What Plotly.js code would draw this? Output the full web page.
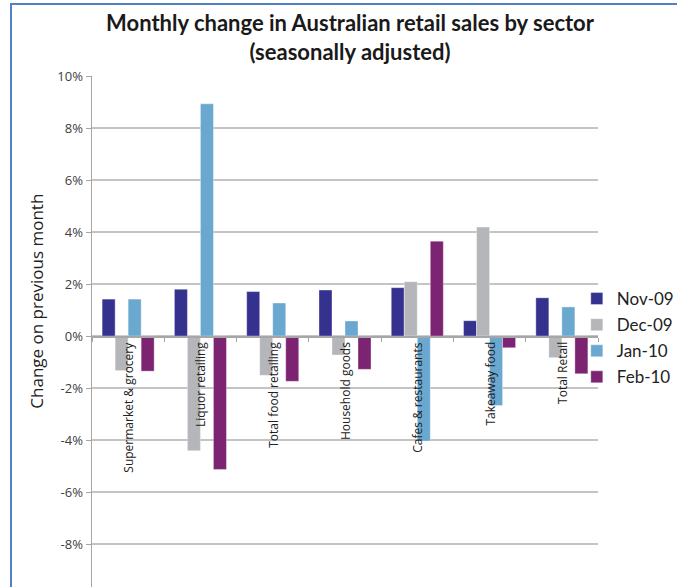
<!DOCTYPE html>
<html>
<head>
<meta charset="utf-8">
<script src="https://cdn.plot.ly/plotly-3.0.1.min.js"></script>
<style>
  html, body { margin: 0; padding: 0; background: #fff; }
  #wrap { position: relative; width: 677px; height: 587px; overflow: hidden; }
  #chart { position: absolute; left: 0; top: 0; width: 677px; height: 587px; }
  #frame { position: absolute; left: 10px; top: 3px; width: 700px; height: 620px;
           border-top: 2px solid #4f81c4; border-left: 2px solid #4f81c4; pointer-events: none; }
</style>
</head>
<body>
<div id="wrap"><div id="chart"></div><div id="frame"></div></div>
<script>
// Data
const categories = ["Supermarket & grocery", "Liquor retailing", "Total food retailing",
                    "Household goods", "Cafes & restaurants", "Takeaway food", "Total Retail"];
const seriesNames = ["Nov-09", "Dec-09", "Jan-10", "Feb-10"];
const nov09 = [1.42, 1.80, 1.71, 1.77, 1.86, 0.59, 1.47];
const dec09 = [-1.33, -4.41, -1.51, -0.73, 2.09, 4.19, -0.83];
const jan10 = [1.42, 8.93, 1.27, 0.58, -4.04, -2.67, 1.12];
const feb10 = [-1.35, -5.13, -1.74, -1.28, 3.65, -0.45, -1.45];
const tickValues = [10, 8, 6, 4, 2, 0, -2, -4, -6, -8];
const tickLabels = ["10%", "8%", "6%", "4%", "2%", "0%", "-2%", "-4%", "-6%", "-8%"];

const colors = ["#35318f", "#b5b6ba", "#6aa8cf", "#7c2372"];
const values = [nov09, dec09, jan10, feb10];
const font = "'Open Sans', 'Noto Sans', sans-serif";
const lato = "Lato, 'Open Sans', sans-serif";

const yRange = [-9.65, 10];
const zeroPos = (0 - yRange[0]) / (yRange[1] - yRange[0]);

const traces = values.map((v, i) => ({
  type: "bar",
  name: seriesNames[i],
  x: categories,
  y: v,
  legendgroup: "g" + i,
  marker: { color: colors[i], line: { color: "rgba(255,255,255,0.6)", width: 0.6 } },
  hoverinfo: "x+y+name"
}));

const annotations = categories.map(c => ({
  x: c, y: 0, xref: "x", yref: "y",
  text: c, showarrow: false, textangle: -90,
  xanchor: "center", yanchor: "top", yshift: -4,
  font: { family: font, size: 12, color: "#222" }
}));

// y-axis title placed like the reference (slightly above the plot centre)
annotations.push({
  x: -0.109, y: 0.56, xref: "paper", yref: "paper",
  text: "Change on previous month", showarrow: false, textangle: -90,
  xanchor: "center", yanchor: "middle",
  font: { family: font, size: 17, color: "#222" }
});

const layout = {
  width: 677, height: 587,
  margin: { l: 92, r: 79, t: 76, b: 0, pad: 0, autoexpand: false },
  paper_bgcolor: "#fff", plot_bgcolor: "#fff",
  font: { family: font, color: "#333" },
  title: {
    text: "<b>Monthly change in Australian retail sales by sector<br>(seasonally adjusted)</b>",
    font: { family: lato, size: 22, color: "#1a1a1a" },
    x: 0.517, xref: "container", xanchor: "center",
    y: 1 - 31 / 587, yref: "container", yanchor: "middle"
  },
  barmode: "group",
  bargap: 0.28,
  bargroupgap: 0,
  xaxis: {
    type: "category",
    anchor: "free", position: zeroPos,
    showline: true, linecolor: "#a6a6a6", linewidth: 1.5,
    ticks: "outside", ticklen: 4, tickcolor: "#a6a6a6", tickson: "boundaries",
    showticklabels: false, showgrid: false, zeroline: false,
    fixedrange: true
  },
  yaxis: {
    range: yRange,
    tickvals: tickValues, ticktext: tickLabels,
    tickfont: { family: font, size: 13, color: "#404040" },
    ticks: "outside", ticklen: 5, tickcolor: "#a6a6a6",
    showline: true, linecolor: "#a6a6a6", linewidth: 1.5,
    showgrid: true, gridcolor: "#c4c4c4", gridwidth: 1.5,
    zeroline: false,
    automargin: false,
    fixedrange: true
  },
  legend: {
    xref: "container", yref: "container",
    x: 0.852, y: 1 - 281 / 587, xanchor: "left", yanchor: "top",
    font: { family: lato, size: 17, color: "#222" },
    traceorder: "grouped", tracegroupgap: 1,
    itemwidth: 30,
    bgcolor: "rgba(0,0,0,0)"
  },
  annotations: annotations,
  showlegend: true
};

Plotly.newPlot("chart", traces, layout, { displayModeBar: false, staticPlot: true });
</script>
</body>
</html>
